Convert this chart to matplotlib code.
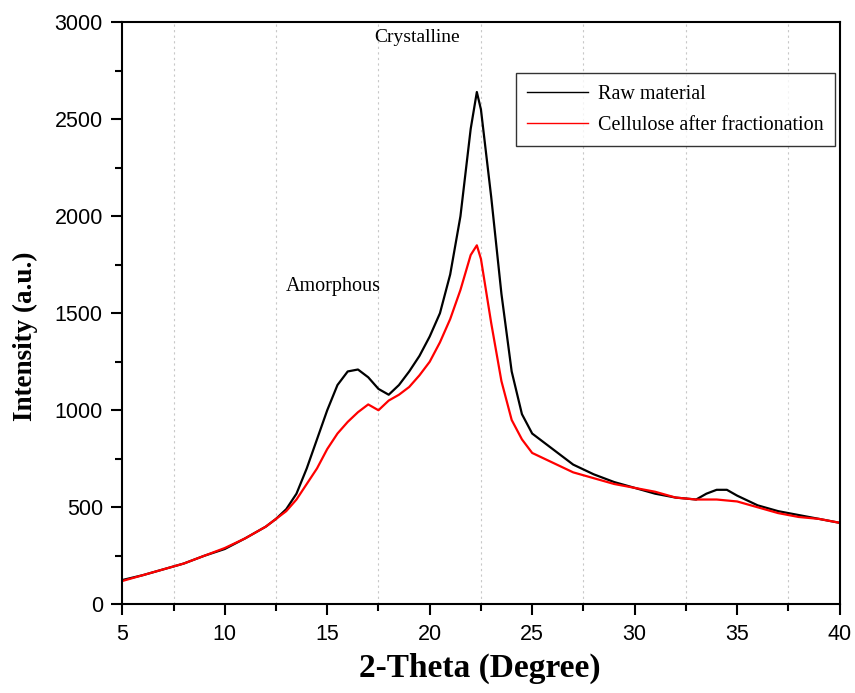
import numpy as np
import matplotlib.pyplot as plt
from matplotlib.ticker import MultipleLocator

# XRD pattern, values
two_theta_raw = [5, 6, 7, 8, 9, 10, 11, 12, 12.5, 13, 13.5, 14, 14.5, 15, 15.5, 16, 16.5,
                 17, 17.5, 18, 18.5, 19, 19.5, 20, 20.5, 21, 21.5, 22, 22.3, 22.5, 23,
                 23.5, 24, 24.5, 25, 26, 27, 28, 29, 30, 31, 32, 33, 33.5, 34, 34.5, 35,
                 36, 37, 38, 39, 40]
raw_material = [125, 150, 180, 210, 250, 285, 340, 400, 440, 490, 570, 700, 850, 1000, 1130,
                1200, 1210, 1170, 1110, 1080, 1130, 1200, 1280, 1380, 1500, 1700, 2000, 2450,
                2640, 2550, 2100, 1600, 1200, 980, 880, 800, 720, 670, 630, 600, 570, 550,
                540, 570, 590, 590, 560, 510, 480, 460, 440, 420]

two_theta_cel = [5, 6, 7, 8, 9, 10, 11, 12, 13, 13.5, 14, 14.5, 15, 15.5, 16, 16.5, 17,
                 17.5, 18, 18.5, 19, 19.5, 20, 20.5, 21, 21.5, 22, 22.3, 22.5, 23, 23.5,
                 24, 24.5, 25, 26, 27, 28, 29, 30, 31, 32, 33, 34, 35, 36, 37, 38, 39, 40]
cellulose = [120, 150, 180, 210, 250, 290, 340, 400, 480, 540, 620, 700, 800, 880, 940, 990,
             1030, 1000, 1050, 1080, 1120, 1180, 1250, 1350, 1470, 1620, 1800, 1850, 1780,
             1450, 1150, 950, 850, 780, 730, 680, 650, 620, 600, 580, 550, 540, 540, 530,
             500, 470, 450, 440, 420]

fig = plt.figure(figsize=(8.55, 6.93), dpi=100)
ax = fig.add_axes([0.143, 0.128, 0.839, 0.84])

ax.plot(two_theta_raw, raw_material, color='black', linewidth=1.6, label='Raw material')
ax.plot(two_theta_cel, cellulose, color='red', linewidth=1.6, label='Cellulose after fractionation')

ax.set_xlim(5, 40)
ax.set_ylim(0, 3000)
ax.xaxis.set_major_locator(MultipleLocator(5))
ax.xaxis.set_minor_locator(MultipleLocator(2.5))
ax.yaxis.set_major_locator(MultipleLocator(500))
ax.yaxis.set_minor_locator(MultipleLocator(250))
ax.grid(which='minor', axis='x', color='#c8c8c8', linestyle=(0, (2, 3)), linewidth=0.8)
ax.tick_params(which='major', direction='out', length=8, width=1.5, labelsize=15.5, pad=6)
ax.tick_params(which='minor', direction='out', length=5, width=1.5)
for lbl in ax.get_xticklabels() + ax.get_yticklabels():
    lbl.set_family('Liberation Sans')
for s in ax.spines.values():
    s.set_linewidth(1.5)

ax.set_xlabel('2-Theta (Degree)', fontsize=24, fontweight='bold', family='Liberation Serif')
ax.set_ylabel('Intensity (a.u.)', fontsize=19.5, fontweight='bold', family='Liberation Serif')
ax.xaxis.set_label_coords(0.498, -0.083)
ax.yaxis.set_label_coords(-0.118, 0.46)

ax.text(15.3, 1640, 'Amorphous', fontsize=14.5, family='Liberation Serif', ha='center', va='center')
ax.text(19.4, 2920, 'Crystalline', fontsize=14, family='Liberation Serif', ha='center', va='center')

leg = ax.legend(loc='upper right', bbox_to_anchor=(0.993, 0.912), borderaxespad=0,
                frameon=True, fancybox=False, edgecolor='black',
                prop={'family': 'Liberation Serif', 'size': 14.5},
                handlelength=3.0, handletextpad=0.5, borderpad=0.55, labelspacing=0.6)
leg.get_frame().set_linewidth(1.0)
for line in leg.get_lines():
    line.set_linewidth(1.0)

fig.savefig('out.png', dpi=100)
